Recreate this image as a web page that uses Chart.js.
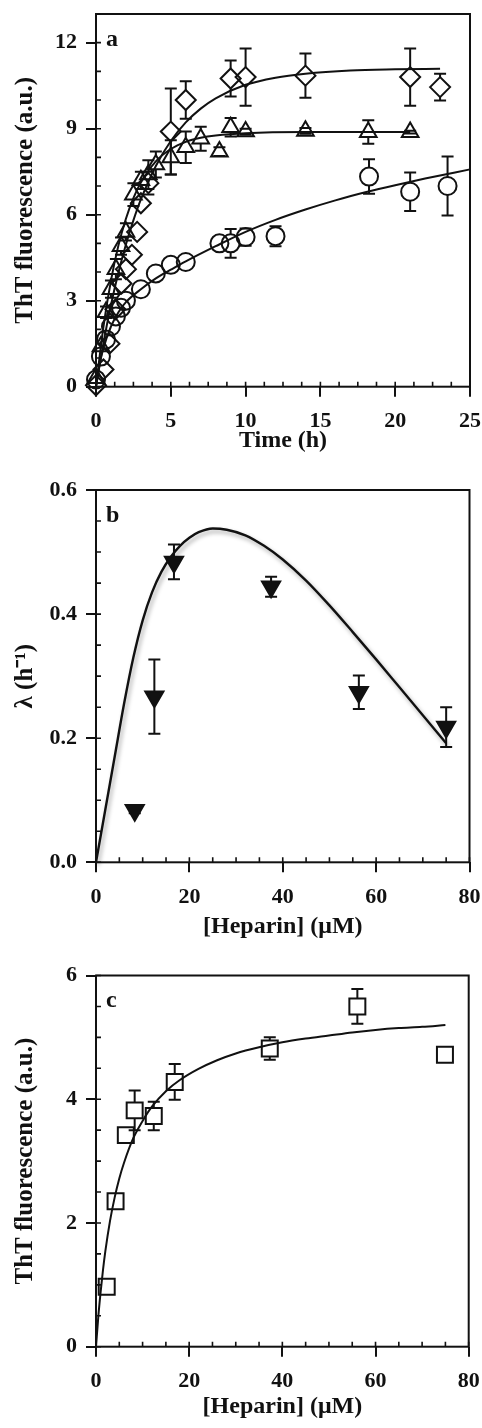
<!DOCTYPE html>
<html>
<head>
<meta charset="utf-8">
<script src="https://cdn.jsdelivr.net/npm/chart.js@4.4.1/dist/chart.umd.min.js"></script>
<style>
  html, body { margin: 0; padding: 0; background: #fff; }
  body { width: 482px; height: 1428px; position: relative; overflow: hidden; }
  canvas { position: absolute; left: 0; }
</style>
</head>
<body>
<canvas id="panelA" width="482" height="470" style="top:0px"></canvas>
<canvas id="panelB" width="482" height="480" style="top:470px"></canvas>
<canvas id="panelC" width="482" height="478" style="top:950px"></canvas>
<script>
// ---- panel a: ThT fluorescence vs time ----
const timeTicks = [0, 5, 10, 15, 20, 25];
const thtTicksA = [0, 3, 6, 9, 12];

const diamondTime = [0, 0.5, 0.9, 1.3, 1.7, 2.0, 2.4, 2.75, 3.0, 3.5, 5, 6, 9, 10, 14, 21, 23];
const diamondTht  = [0.05, 0.6, 1.5, 2.7, 3.6, 4.1, 4.6, 5.4, 6.4, 7.1, 8.9, 10.0, 10.75, 10.8, 10.85, 10.8, 10.45];
const diamondErr  = [0, 0, 0, 0, 0, 0, 0, 0, 0, 0.4, 1.5, 0.65, 0.63, 1.0, 0.77, 1.0, 0.47];

const triangleTime = [0, 0.33, 0.67, 1, 1.33, 1.67, 2, 2.5, 3, 3.5, 4, 5, 6, 7, 8.25, 9, 10, 14, 18.2, 21];
const triangleTht  = [0.3, 1.4, 2.6, 3.4, 4.1, 4.9, 5.4, 6.7, 7.2, 7.4, 7.75, 8.0, 8.35, 8.65, 8.2, 9.05, 8.9, 8.92, 8.88, 8.88];
const triangleErr  = [0, 0, 0.2, 0.3, 0.35, 0.3, 0.3, 0.4, 0.3, 0.5, 0.45, 0.6, 0.55, 0.42, 0.15, 0.32, 0.1, 0.1, 0.41, 0.05];

const circleTime = [0, 0.33, 0.67, 1, 1.33, 1.67, 2, 3, 4, 5, 6, 8.25, 9, 10, 12, 18.25, 21, 23.5];
const circleTht  = [0.25, 1.05, 1.65, 2.1, 2.45, 2.75, 3.0, 3.4, 3.95, 4.25, 4.35, 5.0, 5.0, 5.22, 5.25, 7.33, 6.8, 7.0];
const circleErr  = [0, 0, 0, 0, 0, 0, 0, 0, 0, 0, 0, 0, 0.5, 0.3, 0.35, 0.6, 0.67, 1.03];

const diamondFitTime = [0, 0.5, 1, 1.5, 2, 2.5, 3, 4, 5, 6, 7, 8, 10, 12, 14, 17, 20, 23];
const diamondFitTht  = [0, 1.53, 2.85, 3.98, 4.96, 5.8, 6.53, 7.7, 8.57, 9.22, 9.7, 10.06, 10.53, 10.78, 10.92, 11.03, 11.07, 11.09];
const triangleFitTime = [0, 0.5, 1, 1.5, 2, 2.5, 3, 4, 5, 6, 7, 8, 10, 14, 21];
const triangleFitTht  = [0, 2.1, 3.7, 4.93, 5.86, 6.58, 7.12, 7.86, 8.29, 8.54, 8.68, 8.76, 8.84, 8.88, 8.88];
const circleFitTime = [0, 0.25, 0.5, 1, 1.5, 2, 3, 4, 5, 6, 8, 10, 12, 14, 16, 18, 20, 22, 25];
const circleFitTht  = [0, 0.8, 1.35, 2.1, 2.6, 2.95, 3.4, 3.78, 4.08, 4.37, 4.9, 5.4, 5.82, 6.18, 6.5, 6.78, 7.03, 7.26, 7.58];

// ---- panel b: elongation rate vs heparin ----
const heparinTicks = [0, 20, 40, 60, 80];
const lambdaTicks = [0, 0.2, 0.4, 0.6];
const lambdaHeparin = [8.3, 12.5, 16.7, 37.5, 56.3, 75];
const lambdaValue   = [0.084, 0.267, 0.484, 0.444, 0.274, 0.218];
const lambdaErr     = [0.005, 0.06, 0.028, 0.016, 0.027, 0.032];
const lambdaFitHeparin = [0, 2, 4, 6, 8, 10, 12, 14, 16, 18, 20, 22, 25, 28, 32, 36, 40, 45, 50, 55, 60, 65, 70, 75];
const lambdaFitValue   = [0, 0.085, 0.17, 0.255, 0.33, 0.39, 0.435, 0.468, 0.492, 0.51, 0.523, 0.532, 0.538, 0.536, 0.527, 0.51, 0.488, 0.454, 0.414, 0.371, 0.327, 0.282, 0.237, 0.192];

// ---- panel c: final ThT fluorescence vs heparin ----
const thtTicksC = [0, 2, 4, 6];
const plateauHeparin = [2.3, 4.2, 6.4, 8.3, 12.4, 16.9, 37.3, 56.1, 74.9];
const plateauTht     = [0.97, 2.35, 3.42, 3.82, 3.73, 4.28, 4.82, 5.5, 4.72];
const plateauErr     = [0, 0, 0, 0.32, 0.23, 0.29, 0.18, 0.28, 0];
const plateauFitHeparin = [0, 0.5, 1, 1.5, 2, 3, 4, 5, 6, 8, 10, 12, 15, 18, 22, 26, 30, 35, 40, 45, 50, 55, 60, 65, 70, 75];
const plateauFitTht     = [0, 0.49, 0.89, 1.24, 1.54, 2.03, 2.41, 2.72, 2.97, 3.37, 3.65, 3.88, 4.13, 4.31, 4.49, 4.63, 4.74, 4.84, 4.92, 4.98, 5.03, 5.08, 5.12, 5.15, 5.17, 5.2];

const ink = "#111";
const serif = "'Liberation Serif', 'Times New Roman', serif";

function pts(xs, ys) {
  return xs.map((x, i) => ({ x, y: ys[i] }));
}

function fitLine(xs, ys, extra = {}) {
  return Object.assign({
    data: pts(xs, ys), showLine: true, pointRadius: 0, borderColor: ink, borderWidth: 2,
    cubicInterpolationMode: "monotone", fill: false, clip: false
  }, extra);
}

// gapUp / gapDown: how far the marker outline reaches above / below its centre
function markers(xs, ys, errs, style, radius, gapUp, gapDown, filled = false, rotation = 0) {
  return {
    data: pts(xs, ys), errors: errs, gapUp, gapDown, showLine: false,
    pointStyle: style, pointRadius: radius, pointRotation: rotation,
    pointBorderWidth: 2, pointBorderColor: ink,
    pointBackgroundColor: filled ? ink : "rgba(0,0,0,0)", clip: false
  };
}

const errorBars = {
  id: "errorBars",
  beforeDatasetsDraw(chart) {
    const { ctx } = chart;
    const ys = chart.scales.y;
    ctx.save();
    ctx.strokeStyle = ink;
    ctx.lineWidth = 2;
    chart.data.datasets.forEach((ds, di) => {
      if (!ds.errors) return;
      chart.getDatasetMeta(di).data.forEach((pt, i) => {
        const e = ds.errors[i];
        if (!e) return;
        const v = ds.data[i].y;
        const top = ys.getPixelForValue(v + e);
        const bot = ys.getPixelForValue(v - e);
        ctx.beginPath();
        if (pt.y - top > ds.gapUp) { ctx.moveTo(pt.x, top); ctx.lineTo(pt.x, pt.y - ds.gapUp); }
        if (bot - pt.y > ds.gapDown) { ctx.moveTo(pt.x, bot); ctx.lineTo(pt.x, pt.y + ds.gapDown); }
        ctx.moveTo(pt.x - 6, top); ctx.lineTo(pt.x + 6, top);
        ctx.moveTo(pt.x - 6, bot); ctx.lineTo(pt.x + 6, bot);
        ctx.stroke();
      });
    });
    ctx.restore();
  }
};

// box around the plot area, inward minor ticks and the panel letter
const frame = {
  id: "frame",
  afterDraw(chart, args, opts) {
    const { ctx, chartArea: a } = chart;
    const xs = chart.scales.x, ys = chart.scales.y;
    ctx.save();
    ctx.strokeStyle = ink;
    ctx.lineWidth = 2;
    ctx.strokeRect(a.left, a.top, a.right - a.left, a.bottom - a.top);
    ctx.lineWidth = 1.6;
    ctx.beginPath();
    for (let v = xs.min; v <= xs.max + 1e-9; v += opts.xMinor) {
      const px = xs.getPixelForValue(v);
      ctx.moveTo(px, a.bottom);
      ctx.lineTo(px, a.bottom - 5);
    }
    for (let v = ys.min; v <= ys.max + 1e-9; v += opts.yMinor) {
      const py = ys.getPixelForValue(v);
      ctx.moveTo(a.left, py);
      ctx.lineTo(a.left + 5, py);
    }
    ctx.stroke();
    ctx.fillStyle = ink;
    ctx.font = "bold 24px " + serif;
    ctx.textAlign = "left";
    ctx.textBaseline = "alphabetic";
    ctx.fillText(opts.letter, a.left + 10, a.top + 31.5);
    ctx.restore();
  }
};

const curveShadow = {
  id: "curveShadow",
  beforeDatasetDraw(chart, args) {
    if (!args.meta._dataset.shadow) return;
    const ctx = chart.ctx;
    ctx.save();
    ctx.shadowColor = "rgba(0,0,0,0.35)";
    ctx.shadowBlur = 4;
    ctx.shadowOffsetX = 2;
    ctx.shadowOffsetY = 3;
  },
  afterDatasetDraw(chart, args) {
    if (!args.meta._dataset.shadow) return;
    chart.ctx.restore();
  }
};

function panel(id, cfg) {
  const tickFont = { family: serif, weight: "bold", size: 22 };
  return new Chart(document.getElementById(id), {
    type: "scatter",
    data: { datasets: cfg.datasets },
    options: {
      responsive: false,
      animation: false,
      events: [],
      layout: { padding: { top: cfg.top, right: 12, left: 0, bottom: 0 } },
      plugins: {
        legend: { display: false },
        tooltip: { enabled: false },
        frame: { letter: cfg.letter, xMinor: cfg.xMinor, yMinor: cfg.yMinor }
      },
      scales: {
        x: {
          type: "linear", min: cfg.xTicks[0], max: cfg.xTicks[cfg.xTicks.length - 1],
          afterBuildTicks: (s) => { s.ticks = cfg.xTicks.map((value) => ({ value })); },
          afterFit: (s) => { s.height = cfg.xAxisHeight; s.paddingLeft = 0; s.paddingRight = 0; },
          grid: { drawOnChartArea: false, drawTicks: true, tickLength: 10, color: ink, lineWidth: 2 },
          border: { display: false },
          ticks: { color: ink, font: tickFont, padding: 11.8, maxRotation: 0, autoSkip: false },
          title: {
            display: true, text: cfg.xTitle, color: ink,
            font: { family: serif, weight: "bold", size: 24, lineHeight: 1.2 },
            padding: { top: 0, bottom: cfg.xTitlePad }
          }
        },
        y: {
          type: "linear", min: cfg.yTicks[0], max: cfg.yMax,
          afterBuildTicks: (s) => { s.ticks = cfg.yTicks.map((value) => ({ value })); },
          afterFit: (s) => { s.width = 96; s.paddingTop = 0; s.paddingBottom = 0; },
          grid: { drawOnChartArea: false, drawTicks: true, tickLength: 10, color: ink, lineWidth: 2 },
          border: { display: false },
          ticks: { color: ink, font: tickFont, padding: 9, autoSkip: false, callback: cfg.yLabel },
          title: {
            display: true, text: cfg.yTitle, color: ink,
            font: { family: serif, weight: "bold", size: 25, lineHeight: 1.2 },
            padding: { top: 11, bottom: 0 }
          }
        }
      }
    },
    plugins: [errorBars, frame, curveShadow]
  });
}

panel("panelA", {
  letter: "a", top: 14, xAxisHeight: 83.3, xTitlePad: 14.6,
  xTicks: timeTicks, xMinor: 1.25, yTicks: thtTicksA, yMax: 13, yMinor: 1,
  xTitle: "Time (h)", yTitle: "ThT fluorescence (a.u.)",
  yLabel: (v) => String(v),
  datasets: [
    markers(circleTime, circleTht, circleErr, "circle", 9, 9, 9),
    markers(triangleTime, triangleTht, triangleErr, "triangle", 9.6, 9.6, 4.8),
    markers(diamondTime, diamondTht, diamondErr, "rectRot", 10, 10, 10),
    fitLine(circleFitTime, circleFitTht),
    fitLine(triangleFitTime, triangleFitTht),
    fitLine(diamondFitTime, diamondFitTht)
  ]
});

panel("panelB", {
  letter: "b", top: 20, xAxisHeight: 87.7, xTitlePad: 8.4,
  xTicks: heparinTicks, xMinor: 5, yTicks: lambdaTicks, yMax: 0.6, yMinor: 0.05,
  xTitle: "[Heparin] (\u03BCM)", yTitle: "\u03BB (h\u207B\u00B9)",
  yLabel: (v) => v.toFixed(1),
  datasets: [
    markers(lambdaHeparin, lambdaValue, lambdaErr, "triangle", 10.5, 5.2, 10.5, true, 180),
    fitLine(lambdaFitHeparin, lambdaFitValue, { shadow: true, borderWidth: 2.4 })
  ]
});

panel("panelC", {
  letter: "c", top: 25.5, xAxisHeight: 81.3, xTitlePad: 6.6,
  xTicks: heparinTicks, xMinor: 5, yTicks: thtTicksC, yMax: 6, yMinor: 0.5,
  xTitle: "[Heparin] (\u03BCM)", yTitle: "ThT fluorescence (a.u.)",
  yLabel: (v) => String(v),
  datasets: [
    markers(plateauHeparin, plateauTht, plateauErr, "rect", 11.3, 8, 8),
    fitLine(plateauFitHeparin, plateauFitTht)
  ]
});
</script>
</body>
</html>
